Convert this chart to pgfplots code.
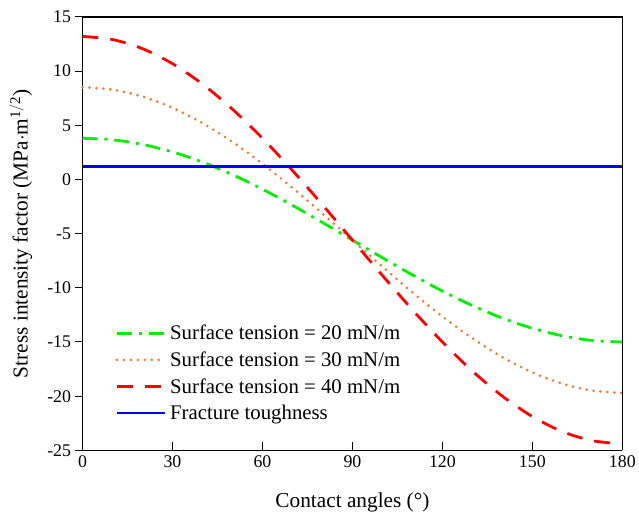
\documentclass[border=0pt]{standalone}
\usepackage{pgfplots}
\pgfplotsset{compat=1.18}
\usepackage{fontspec}
\setmainfont{Liberation Serif}
\definecolor{cgreen}{RGB}{0,240,0}
\definecolor{corange}{RGB}{237,125,49}
\definecolor{cred}{RGB}{255,0,0}
\definecolor{cblue}{RGB}{0,0,255}
\begin{document}
\begin{tikzpicture}
\begin{axis}[
  scale only axis,
  width=543bp, height=436bp,
  xmin=0, xmax=180, ymin=-25, ymax=15,
  xtick={0,30,...,180}, ytick={-25,-20,...,15},
  axis x line*=bottom, axis y line*=left,
  axis line style={line width=1.5bp},
  x tick style={line width=1bp, black}, y tick style={line width=1bp, black},
  xtick align=inside, ytick align=outside,
  major tick length=8bp,
  tick label style={font=\fontsize{18}{20}\selectfont},
  xticklabel style={yshift=-2bp},
  /pgf/number format/assume math mode=true,
  xlabel={Contact angles (°)},
  ylabel={Stress intensity factor (MPa$\cdot$m$^{\mathrm{1/2}}$)},
  every axis x label/.style={at={(rel axis cs:0.5,0)}, yshift=-52bp, anchor=center, font=\fontsize{21.5}{24}\selectfont},
  every axis y label/.style={at={(rel axis cs:0,0.5)}, xshift=-62bp, rotate=90, anchor=center, font=\fontsize{21.5}{24}\selectfont},
  legend style={draw=none, fill=none, at={(rel axis cs:0.057,0.298)}, anchor=north west,
    font=\fontsize{21}{24}\selectfont, row sep=6.5bp, inner sep=2bp,
    nodes={inner xsep=4bp}},
  legend cell align=left,
  legend image code/.code={\draw[#1] (0bp,0bp) -- (48bp,0bp);},
  clip=false,
]
\addplot[cgreen, line width=2.8bp, dash pattern=on 15bp off 7bp on 3bp off 7bp, smooth] coordinates {
(0,3.80)(10,3.66)(20,3.23)(30,2.54)(40,1.60)(50,0.44)(60,-0.90)(70,-2.39)(80,-3.97)(90,-5.60)
(100,-7.23)(110,-8.81)(120,-10.30)(130,-11.64)(140,-12.80)(150,-13.74)(160,-14.43)(170,-14.86)(180,-15.00)};
\addlegendentry{Surface tension = 20 mN/m}
\addplot[corange, line width=3bp, dash pattern=on 0bp off 7bp, line cap=round, smooth] coordinates {
(0,8.50)(10,8.29)(20,7.65)(30,6.61)(40,5.20)(50,3.46)(60,1.45)(70,-0.78)(80,-3.15)(90,-5.60)
(100,-8.05)(110,-10.42)(120,-12.65)(130,-14.66)(140,-16.40)(150,-17.81)(160,-18.85)(170,-19.49)(180,-19.70)};
\addlegendentry{Surface tension = 30 mN/m}
\addplot[cred, line width=2.8bp, dash pattern=on 16bp off 12bp, smooth] coordinates {
(0,13.20)(10,12.91)(20,12.07)(30,10.68)(40,8.80)(50,6.48)(60,3.80)(70,0.83)(80,-2.34)(90,-5.60)
(100,-8.86)(110,-12.03)(120,-15.00)(130,-17.68)(140,-20.00)(150,-21.88)(160,-23.27)(170,-24.11)(180,-24.40)};
\addlegendentry{Surface tension = 40 mN/m}
\addplot[cblue, line width=2.8bp] coordinates {(0,1.2)(180,1.2)};
\addlegendentry{Fracture toughness}
\draw[line width=1.5bp] (rel axis cs:0,1) -- (rel axis cs:1,1) -- (rel axis cs:1,0);
\path (rel axis cs:0,0) ++(-83bp,-65bp) coordinate (bbsw);
\path (rel axis cs:1,1) ++(13bp,17bp) coordinate (bbne);
\end{axis}
\useasboundingbox (bbsw) rectangle (bbne);
\end{tikzpicture}
\end{document}
